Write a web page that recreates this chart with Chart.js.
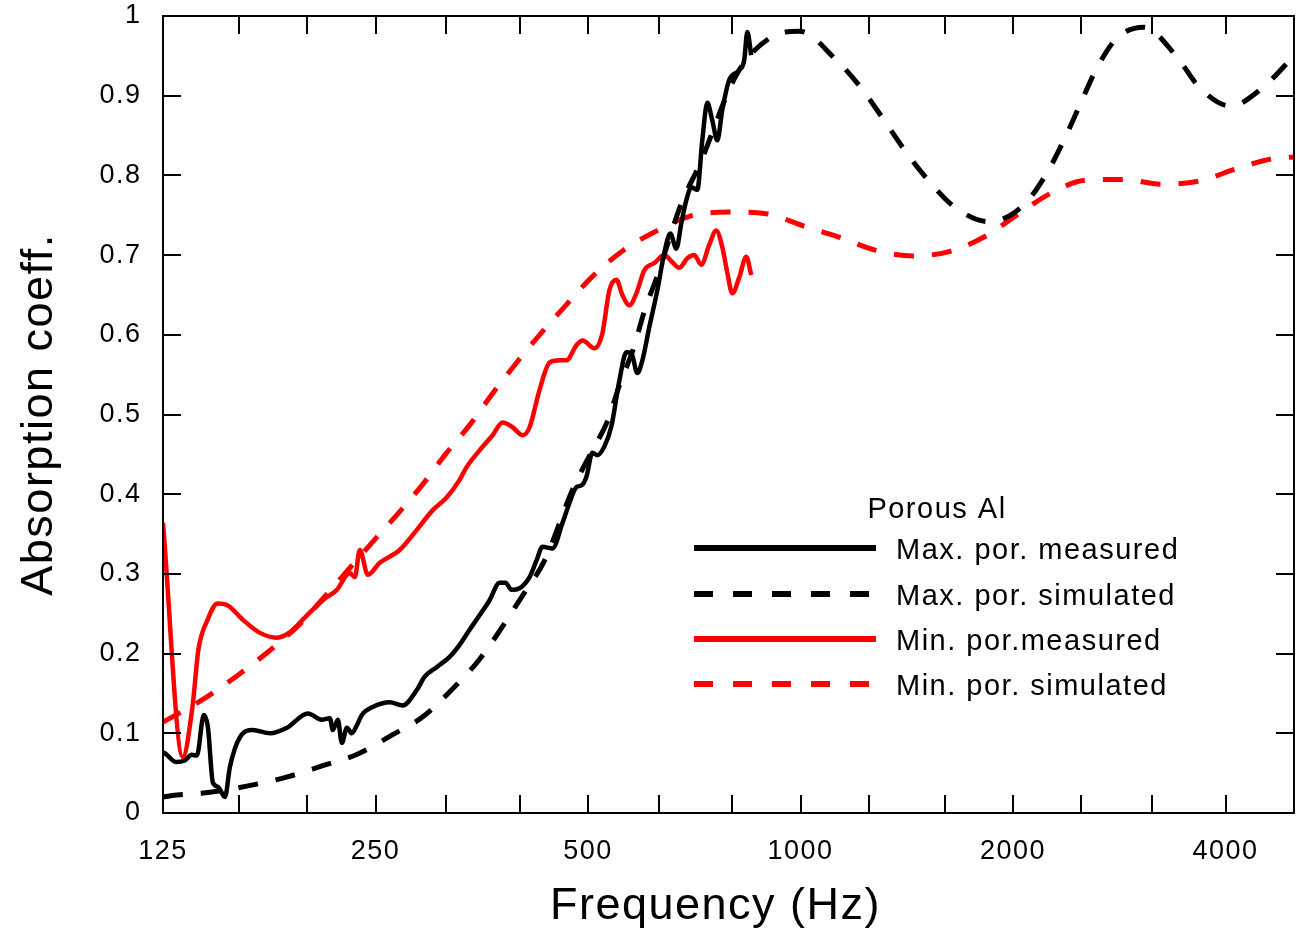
<!DOCTYPE html>
<html><head><meta charset="utf-8">
<script src="https://cdn.jsdelivr.net/npm/chart.js@4.4.0/dist/chart.umd.min.js"></script>
<style>html,body{margin:0;padding:0;background:#fff;} #wrap{width:1297px;height:937px;}</style>
</head><body><div id="wrap"><canvas id="c" width="1297" height="937"></canvas></div>
<script>
// ---- data ----
const xTickLabels = [125, 250, 500, 1000, 2000, 4000];
const xMinorTicks = [160, 200, 250, 315, 400, 500, 630, 800, 1000, 1250, 1600, 2000, 2500, 3150, 4000];
const yTickValues = [0, 0.1, 0.2, 0.3, 0.4, 0.5, 0.6, 0.7, 0.8, 0.9, 1];

const maxMeasFreq = [125, 125.8, 130.4, 134.2, 137.3, 139.6, 142.8, 144.7, 147.1, 149.5, 153.0, 155.5, 160.6, 167.5, 177.2, 187.3, 200.5, 209.9, 215.4, 217.5, 221.1, 224.0, 227.7, 231.4, 235.2, 239.1, 247.7, 261.9, 273.2, 285.9, 293.5, 305.2, 318.4, 328.9, 339.8, 351, 362.7, 374.7, 382, 389.6, 399.9, 413.2, 422.7, 431, 445.3, 460, 470.6, 481.5, 489.4, 497.4, 507.2, 515.5, 527.4, 539.5, 553.9, 566.6, 575.9, 587.2, 597, 610.7, 626.9, 641.3, 654, 666.9, 677.8, 689, 700.3, 714.1, 725.8, 737.8, 749.9, 762.2, 774.7, 792.5, 818.8, 832.3, 840.5, 851.4];
const maxMeasVal = [0.076, 0.075, 0.064, 0.066, 0.073, 0.072, 0.123, 0.108, 0.038, 0.033, 0.020, 0.058, 0.095, 0.104, 0.100, 0.107, 0.125, 0.117, 0.119, 0.104, 0.117, 0.088, 0.107, 0.100, 0.110, 0.123, 0.133, 0.139, 0.135, 0.154, 0.171, 0.183, 0.196, 0.211, 0.230, 0.248, 0.267, 0.289, 0.289, 0.280, 0.282, 0.296, 0.317, 0.334, 0.332, 0.364, 0.389, 0.409, 0.411, 0.422, 0.452, 0.449, 0.460, 0.485, 0.543, 0.578, 0.577, 0.552, 0.568, 0.610, 0.656, 0.703, 0.727, 0.708, 0.740, 0.769, 0.785, 0.782, 0.844, 0.891, 0.869, 0.844, 0.882, 0.920, 0.932, 0.945, 0.980, 0.951];

const maxSimFreq = [125, 128.7, 145.7, 164.9, 187, 210, 236, 264, 293, 322.5, 351, 406, 434, 475, 507, 533, 554, 580, 601, 625, 678, 719, 811, 903, 995, 1123, 1218, 1309, 1406, 1520, 1660, 1849, 2071, 2233, 2360, 2486, 2619, 2805, 3063, 3410, 3676, 4065, 4512, 5000];
const maxSimVal = [0.020, 0.022, 0.026, 0.034, 0.045, 0.059, 0.074, 0.098, 0.122, 0.157, 0.193, 0.276, 0.317, 0.405, 0.455, 0.492, 0.537, 0.583, 0.630, 0.671, 0.765, 0.813, 0.926, 0.972, 0.981, 0.945, 0.910, 0.871, 0.831, 0.793, 0.759, 0.742, 0.763, 0.803, 0.844, 0.888, 0.932, 0.972, 0.986, 0.949, 0.910, 0.887, 0.910, 0.950];

const minMeasFreq = [125, 133.3, 137.6, 140.3, 144.5, 149.3, 154, 162.4, 171.5, 181.3, 189.2, 199.9, 210.5, 220.4, 229.9, 233.7, 237.5, 243.8, 253.5, 270.5, 285.9, 301.3, 315.3, 328.9, 336.5, 351, 366.2, 378.4, 391, 404, 413.2, 426.9, 441, 455.6, 466.1, 481.5, 491.1, 510.6, 524, 536.1, 548.5, 559.3, 572.2, 585.4, 600.8, 620.7, 641.3, 658.3, 673.5, 691.3, 707.1, 723.4, 742.5, 759.7, 774.7, 787.5, 800.4, 818.8, 837.7, 851.4];
const minMeasVal = [0.364, 0.070, 0.133, 0.205, 0.242, 0.263, 0.261, 0.242, 0.226, 0.220, 0.227, 0.248, 0.267, 0.280, 0.301, 0.296, 0.330, 0.299, 0.314, 0.330, 0.355, 0.380, 0.396, 0.418, 0.434, 0.455, 0.474, 0.490, 0.484, 0.474, 0.484, 0.531, 0.565, 0.568, 0.568, 0.587, 0.593, 0.583, 0.602, 0.656, 0.669, 0.650, 0.637, 0.652, 0.681, 0.690, 0.700, 0.691, 0.684, 0.696, 0.700, 0.688, 0.713, 0.731, 0.710, 0.678, 0.652, 0.672, 0.698, 0.675];

const minSimFreq = [125, 143.3, 158.5, 176, 195.3, 213, 247, 268, 292, 314, 340, 366, 396, 428, 465, 507, 557, 621, 698, 790, 894, 1006, 1130, 1279, 1443, 1634, 1830, 2038, 2255, 2535, 2860, 3250, 3676, 4133, 4662, 5000];
const minSimVal = [0.114, 0.144, 0.171, 0.202, 0.237, 0.274, 0.339, 0.374, 0.413, 0.450, 0.487, 0.526, 0.565, 0.601, 0.637, 0.673, 0.704, 0.729, 0.749, 0.754, 0.752, 0.737, 0.723, 0.706, 0.699, 0.705, 0.724, 0.752, 0.777, 0.794, 0.795, 0.789, 0.793, 0.808, 0.821, 0.823];

const seriesLabels = ['Max. por. measured', 'Max. por. simulated', 'Min. por.measured', 'Min. por. simulated'];
const legendTitle = 'Porous Al';
const xTitle = 'Frequency (Hz)';
const yTitle = 'Absorption coeff.';

// ---- helpers ----
const FAMILY = '"Liberation Sans", Arial, Helvetica, sans-serif';
const pts = (fs, vs) => fs.map((f, i) => ({x: f, y: vs[i]}));
const DASH = [20, 18];

const framePlugin = {
  id: 'frameTicks',
  afterLayout(chart) {
    const s = chart.scales.x;
    if (s && !s._titleShifted) {
      const orig = s.drawTitle.bind(s);
      s.drawTitle = function () {
        this.ctx.save();
        this.ctx.translate(-13, 0);
        orig();
        this.ctx.restore();
      };
      s._titleShifted = true;
    }
  },
  beforeDraw(chart) { chart.ctx.letterSpacing = '1.5px'; },
  afterDatasetsDraw(chart) {
    const {ctx, chartArea: a, scales: {x, y}} = chart;
    const L = 18;
    ctx.save();
    ctx.strokeStyle = '#000';
    ctx.lineWidth = 2;
    ctx.setLineDash([]);
    ctx.strokeRect(a.left, a.top, a.right - a.left, a.bottom - a.top);
    ctx.beginPath();
    xMinorTicks.forEach(v => {
      const px = Math.round(x.getPixelForValue(v));
      ctx.moveTo(px, a.bottom); ctx.lineTo(px, a.bottom - L);
      ctx.moveTo(px, a.top); ctx.lineTo(px, a.top + L);
    });
    yTickValues.forEach(v => {
      const py = Math.round(y.getPixelForValue(v));
      ctx.moveTo(a.left, py); ctx.lineTo(a.left + L, py);
      ctx.moveTo(a.right, py); ctx.lineTo(a.right - L, py);
    });
    ctx.stroke();
    ctx.restore();
  },
  afterDraw(chart) {
    const ctx = chart.ctx;
    ctx.save();
    ctx.letterSpacing = '1.5px';
    ctx.font = '29px ' + FAMILY;
    ctx.fillStyle = '#000';
    ctx.textAlign = 'center';
    ctx.textBaseline = 'middle';
    ctx.fillText(legendTitle, 937, 510);
    const rows = [548, 594, 639, 684];
    chart.data.datasets.forEach((ds, i) => {
      const yy = rows[i];
      ctx.strokeStyle = ds.borderColor;
      ctx.lineWidth = 6;
      ctx.lineCap = 'butt';
      ctx.setLineDash(ds.borderDash && ds.borderDash.length ? [19, 20] : []);
      ctx.beginPath();
      ctx.moveTo(694, yy); ctx.lineTo(876, yy);
      ctx.stroke();
      ctx.setLineDash([]);
      ctx.textAlign = 'left';
      ctx.fillText(ds.label, 896, yy + 3);
    });
    ctx.restore();
  }
};

new Chart(document.getElementById('c'), {
  type: 'line',
  data: {
    datasets: [
      {label: seriesLabels[0], data: pts(maxMeasFreq, maxMeasVal), borderColor: '#000000', borderWidth: 4.5, borderDash: [], cubicInterpolationMode: 'monotone'},
      {label: seriesLabels[1], data: pts(maxSimFreq, maxSimVal), borderColor: '#000000', borderWidth: 5, borderDash: DASH, cubicInterpolationMode: 'monotone'},
      {label: seriesLabels[2], data: pts(minMeasFreq, minMeasVal), borderColor: '#ff0000', borderWidth: 4.5, borderDash: [], cubicInterpolationMode: 'monotone'},
      {label: seriesLabels[3], data: pts(minSimFreq, minSimVal), borderColor: '#ff0000', borderWidth: 5, borderDash: DASH, cubicInterpolationMode: 'monotone'}
    ]
  },
  options: {
    responsive: false,
    animation: false,
    devicePixelRatio: 1,
    layout: {padding: {top: 16, right: 3, bottom: 0, left: 0}},
    elements: {point: {radius: 0, hoverRadius: 0}, line: {fill: false}},
    plugins: {legend: {display: false}, tooltip: {enabled: false}},
    scales: {
      x: {
        type: 'logarithmic', min: 125, max: 5000, position: 'bottom',
        afterBuildTicks: s => { s.ticks = xTickLabels.map(v => ({value: v})); },
        afterFit: s => { s.height = 124; s.paddingLeft = 0; s.paddingRight = 0; },
        ticks: {autoSkip: false, maxRotation: 0, minRotation: 0, padding: 22, color: '#000',
                font: {family: FAMILY, size: 27}, callback: v => String(v)},
        grid: {display: false, drawTicks: false},
        border: {display: true, color: '#000', width: 2},
        title: {display: true, text: xTitle, color: '#000', font: {family: FAMILY, size: 45}, padding: {top: 0, bottom: 3}}
      },
      y: {
        min: 0, max: 1, position: 'left',
        afterBuildTicks: s => { s.ticks = yTickValues.map(v => ({value: v})); },
        afterFit: s => { s.width = 163; s.paddingTop = 0; s.paddingBottom = 0; },
        ticks: {padding: 21.5, color: '#000', font: {family: FAMILY, size: 27},
                callback: v => String(Math.round(v * 10) / 10)},
        grid: {display: false, drawTicks: false},
        border: {display: true, color: '#000', width: 2},
        title: {display: true, text: yTitle, color: '#000', font: {family: FAMILY, size: 45}, padding: {top: 12.5, bottom: 0}}
      }
    }
  },
  plugins: [framePlugin]
});
</script>
</body></html>
